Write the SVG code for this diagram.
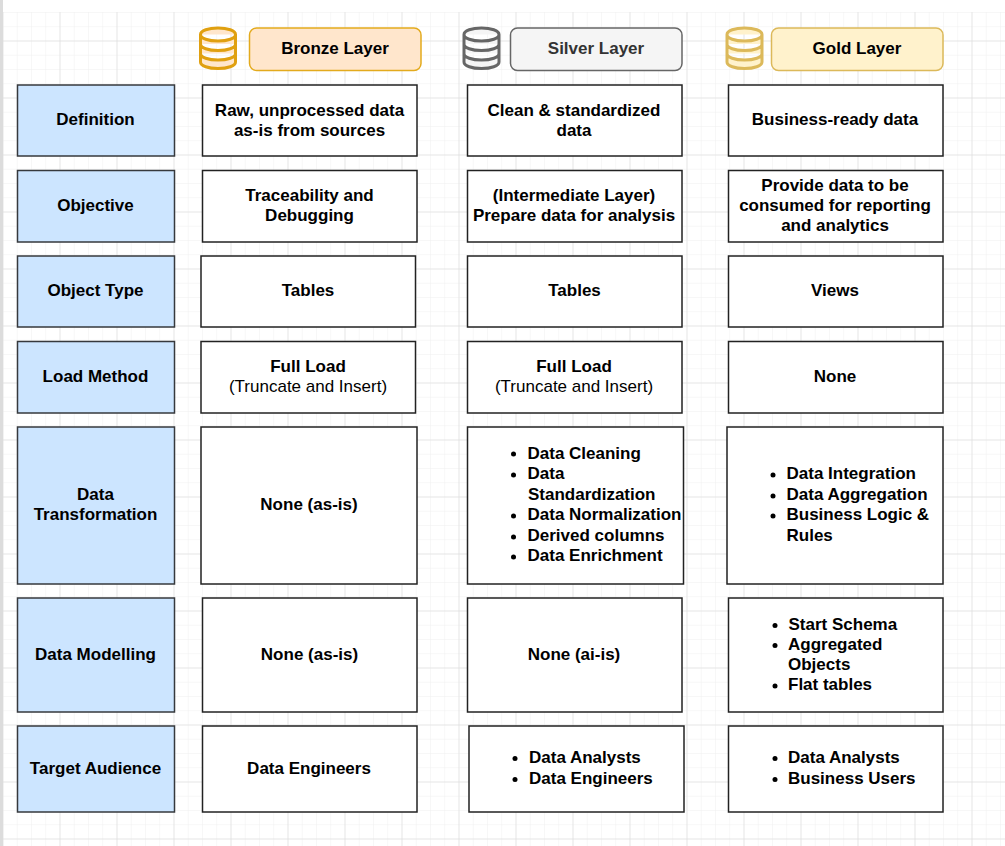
<svg xmlns="http://www.w3.org/2000/svg" width="1005" height="846" viewBox="0 0 1005 846">
<style>
text{font-family:"Liberation Sans",Arial,sans-serif;font-size:17px;font-weight:700;fill:#000}
text.c{text-anchor:middle}
text.n{font-weight:400}
.lab{fill:#cce5ff;stroke:#36393d;stroke-width:1.5}
.box{fill:#fff;stroke:#222;stroke-width:1.5}
.cyl path{fill:none;stroke-width:3}
.b{fill:#000}
</style>
<defs>
<pattern id="gmin" width="14.25" height="14.25" patternUnits="userSpaceOnUse" x="2.5" y="12"><path d="M14.25 0H0V14.25" fill="none" stroke="#efefef" stroke-width="1"/></pattern>
<pattern id="gmaj" width="57" height="57" patternUnits="userSpaceOnUse" x="2.5" y="40.5"><path d="M57 0H0V57" fill="none" stroke="#d8d8d8" stroke-width="1"/></pattern>
<path id="cylshape" d="M0 6.5C0 2.5 8 0 17.5 0S35 2.5 35 6.5V34C35 38 27 40.500 17.500 40.500S0 38 0 34ZM0 6.500C0 10.500 8 13 17.500 13S35 10.500 35 6.500M0 16C0 20 8 22.500 17.500 22.500S35 20 35 16M0 25.500C0 29.500 8 32 17.500 32S35 29.500 35 25.500"/>
</defs>
<rect width="1005" height="846" fill="#fff"/>
<rect x="3" y="12" width="1002" height="834" fill="url(#gmin)"/>
<rect x="3" y="12" width="1002" height="834" fill="url(#gmaj)"/>
<rect width="3" height="846" fill="#dcdcdc"/>
<g id="connectors"></g>

<g id="bronze-icon" class="cyl"><use href="#cylshape" x="200.500" y="28" fill="#ffe6cc" stroke="#e0a010" stroke-width="3"/></g>
<g id="bronze-header"><rect x="249.500" y="28" width="171.500" height="42.500" rx="7" fill="#ffe6cc" stroke="#e3aa1d" stroke-width="1.500"/><text class="c" x="335" y="54">Bronze Layer</text></g>
<g id="silver-icon" class="cyl"><use href="#cylshape" x="464" y="28" fill="#f5f5f5" stroke="#666" stroke-width="3"/></g>
<g id="silver-header"><rect x="510.500" y="28" width="171.500" height="42.500" rx="7" fill="#f5f5f5" stroke="#666" stroke-width="1.500"/><text class="c" x="596" y="54" style="fill:#333">Silver Layer</text></g>
<g id="gold-icon" class="cyl"><use href="#cylshape" x="727" y="28" fill="#fff2cc" stroke="#dcb95a" stroke-width="3"/></g>
<g id="gold-header"><rect x="771.500" y="28" width="171.500" height="42.500" rx="7" fill="#fff2cc" stroke="#dcb95a" stroke-width="1.500"/><text class="c" x="857" y="54">Gold Layer</text></g>

<g id="label-definition"><rect class="lab" x="17.500" y="85" width="157" height="71"/><text class="c" x="95.500" y="125">Definition</text></g>
<g id="label-objective"><rect class="lab" x="17.500" y="170.500" width="157" height="71.500"/><text class="c" x="95.500" y="211">Objective</text></g>
<g id="label-object-type"><rect class="lab" x="17.500" y="256" width="157" height="71"/><text class="c" x="95.500" y="296">Object Type</text></g>
<g id="label-load-method"><rect class="lab" x="17.500" y="341.500" width="157" height="71.500"/><text class="c" x="95.500" y="382">Load Method</text></g>
<g id="label-data-transformation"><rect class="lab" x="17.500" y="427" width="157" height="157"/><text class="c" x="95.500" y="500">Data</text><text class="c" x="95.500" y="520">Transformation</text></g>
<g id="label-data-modelling"><rect class="lab" x="17.500" y="598" width="157" height="114"/><text class="c" x="95.500" y="660">Data Modelling</text></g>
<g id="label-target-audience"><rect class="lab" x="17.500" y="726" width="157" height="86"/><text class="c" x="95.500" y="774">Target Audience</text></g>

<g id="bronze-definition"><rect class="box" x="202.500" y="85" width="214.500" height="71"/><text class="c" x="309.500" y="116">Raw, unprocessed data</text><text class="c" x="309.500" y="136">as-is from sources</text></g>
<g id="bronze-objective"><rect class="box" x="202.500" y="170.500" width="214.500" height="71.500"/><text class="c" x="309.500" y="201">Traceability and</text><text class="c" x="309.500" y="221">Debugging</text></g>
<g id="bronze-object-type"><rect class="box" x="201" y="256" width="214.500" height="71"/><text class="c" x="308" y="296">Tables</text></g>
<g id="bronze-load-method"><rect class="box" x="201" y="341.500" width="214.500" height="71.500"/><text class="c" x="308" y="372">Full Load</text><text class="c n" x="308" y="392">(Truncate and Insert)</text></g>
<g id="bronze-transformation"><rect class="box" x="201" y="427" width="216" height="157"/><text class="c" x="309" y="510">None (as-is)</text></g>
<g id="bronze-modelling"><rect class="box" x="202.500" y="598" width="214.500" height="114"/><text class="c" x="309.500" y="660">None (as-is)</text></g>
<g id="bronze-audience"><rect class="box" x="202.500" y="726" width="214.500" height="86"/><text class="c" x="309" y="774">Data Engineers</text></g>

<g id="silver-definition"><rect class="box" x="467.500" y="85" width="214.500" height="71"/><text class="c" x="574" y="116">Clean &amp; standardized</text><text class="c" x="574" y="136">data</text></g>
<g id="silver-objective"><rect class="box" x="467.500" y="170.500" width="214.500" height="71.500"/><text class="c" x="574" y="201">(Intermediate Layer)</text><text class="c" x="574" y="221">Prepare data for analysis</text></g>
<g id="silver-object-type"><rect class="box" x="467.500" y="256" width="214.500" height="71"/><text class="c" x="574.500" y="296">Tables</text></g>
<g id="silver-load-method"><rect class="box" x="467.500" y="341.500" width="214.500" height="71.500"/><text class="c" x="574" y="372">Full Load</text><text class="c n" x="574" y="392">(Truncate and Insert)</text></g>
<g id="silver-transformation"><rect class="box" x="467.500" y="427" width="216" height="157"/>
<circle class="b" cx="513.500" cy="454" r="2.500"/><text x="527.500" y="459">Data Cleaning</text>
<circle class="b" cx="513.500" cy="475" r="2.500"/><text x="527.500" y="479">Data</text><text x="528" y="500">Standardization</text>
<circle class="b" cx="513.500" cy="516" r="2.500"/><text x="527.500" y="520">Data Normalization</text>
<circle class="b" cx="513.500" cy="537" r="2.500"/><text x="527.500" y="541">Derived columns</text>
<circle class="b" cx="513.500" cy="557" r="2.500"/><text x="527.500" y="561">Data Enrichment</text></g>
<g id="silver-modelling"><rect class="box" x="467.500" y="598" width="214.500" height="114"/><text class="c" x="574" y="660">None (ai-is)</text></g>
<g id="silver-audience"><rect class="box" x="469" y="726" width="215" height="86"/>
<circle class="b" cx="515" cy="758.500" r="2.500"/><text x="529" y="763">Data Analysts</text>
<circle class="b" cx="515" cy="779.500" r="2.500"/><text x="529" y="784">Data Engineers</text></g>

<g id="gold-definition"><rect class="box" x="728.500" y="85" width="214.500" height="71"/><text class="c" x="835" y="125">Business-ready data</text></g>
<g id="gold-objective"><rect class="box" x="728.500" y="170.500" width="214.500" height="71.500"/><text class="c" x="835" y="191">Provide data to be</text><text class="c" x="835" y="211">consumed for reporting</text><text class="c" x="835" y="231">and analytics</text></g>
<g id="gold-object-type"><rect class="box" x="728.500" y="256" width="214.500" height="71"/><text class="c" x="835" y="296">Views</text></g>
<g id="gold-load-method"><rect class="box" x="728.500" y="341.500" width="214.500" height="71.500"/><text class="c" x="835" y="382">None</text></g>
<g id="gold-transformation"><rect class="box" x="727" y="427" width="216" height="157"/>
<circle class="b" cx="773" cy="475" r="2.500"/><text x="786.500" y="479">Data Integration</text>
<circle class="b" cx="773" cy="496" r="2.500"/><text x="786.500" y="500">Data Aggregation</text>
<circle class="b" cx="773" cy="516" r="2.500"/><text x="786.500" y="520">Business Logic &amp;</text><text x="786.500" y="541">Rules</text></g>
<g id="gold-modelling"><rect class="box" x="728.500" y="598" width="214.500" height="114"/>
<circle class="b" cx="775" cy="625.500" r="2.500"/><text x="788.500" y="630">Start Schema</text>
<circle class="b" cx="775" cy="645.500" r="2.500"/><text x="788" y="650">Aggregated</text><text x="788" y="670">Objects</text>
<circle class="b" cx="775" cy="686" r="2.500"/><text x="788" y="690">Flat tables</text></g>
<g id="gold-audience"><rect class="box" x="728.500" y="726" width="214.500" height="86"/>
<circle class="b" cx="775" cy="758.500" r="2.500"/><text x="788" y="763">Data Analysts</text>
<circle class="b" cx="775" cy="779.500" r="2.500"/><text x="788" y="784">Business Users</text></g>
</svg>
